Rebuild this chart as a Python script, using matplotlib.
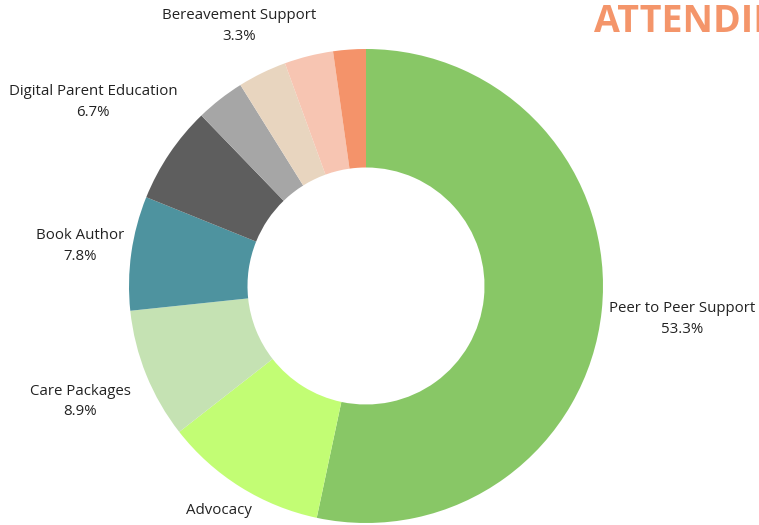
import matplotlib

matplotlib.use("Agg")
import matplotlib.pyplot as plt
import numpy as np

# counts out of 90 respondents, clockwise from the top
categories = [
    "Peer to Peer Support",
    "Advocacy",
    "Care Packages",
    "Book Author",
    "Digital Parent Education",
    "Other",
    "Bereavement Support",
    "Other 2",
    "Other 3",
]
counts = [48, 10, 8, 7, 6, 3, 3, 3, 2]
show_label = [True, True, True, True, True, False, True, False, False]
title_text = "ATTENDING"

colors = [
    "#88c766",
    "#c2fd74",
    "#c5e2b3",
    "#4e939f",
    "#5e5e5e",
    "#a6a6a6",
    "#e8d5bf",
    "#f7c5b2",
    "#f4936a",
]
# radial distance of each label, in pie radii
label_dist = [1.34, 1.17, 1.30, 1.22, 1.39, 1.2, 1.22, 1.2, 1.2]

plt.rcParams["font.family"] = ["Open Sans", "DejaVu Sans"]

W, H = 759, 525
cx, cy, r = 366, 286, 237

fig = plt.figure(figsize=(W / 100, H / 100), dpi=100)
ax = fig.add_axes([(cx - r) / W, (H - cy - r) / H, 2 * r / W, 2 * r / H])
wedges, _ = ax.pie(
    counts,
    colors=colors,
    startangle=90,
    counterclock=False,
    radius=1.0,
    wedgeprops=dict(width=0.5, edgecolor="none"),
)
ax.set_xlim(-1, 1)
ax.set_ylim(-1, 1)
ax.set_aspect("equal")
ax.axis("off")

total = sum(counts)
for w, name, c, show, d in zip(wedges, categories, counts, show_label, label_dist):
    if not show:
        continue
    mid = np.deg2rad((w.theta1 + w.theta2) / 2)
    pct = 100 * c / total
    ax.text(
        d * np.cos(mid),
        d * np.sin(mid),
        f"{name}\n{pct:.1f}%",
        ha="center",
        va="center",
        fontsize=10.8,
        color="#222222",
        linespacing=1.5,
        clip_on=False,
    )

fig.text(
    594 / W,
    1 - 22 / H,
    title_text,
    ha="left",
    va="center",
    fontsize=27,
    fontweight="bold",
    color="#f4956a",
)

fig.savefig("out.png", dpi=100)
